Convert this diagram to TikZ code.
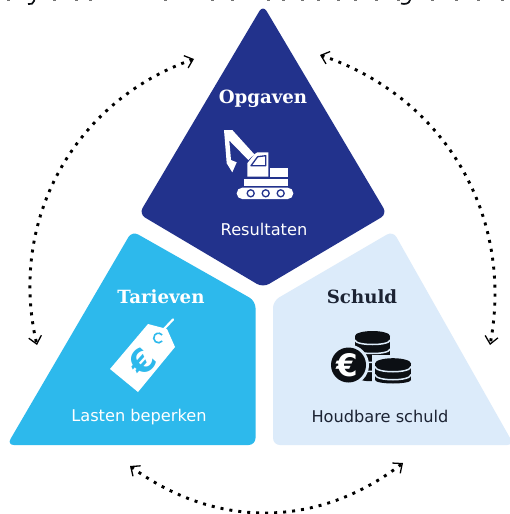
\documentclass[tikz,border=0pt]{standalone}
\usepackage{fontspec}
\setmainfont{DejaVu Sans}
\newfontfamily\titlefont{DejaVu Serif}[BoldFont={DejaVu Serif Bold}]
\usetikzlibrary{arrows.meta}
\definecolor{navy}{HTML}{22328C}
\definecolor{sky}{HTML}{2DB9EC}
\definecolor{pale}{HTML}{DCEBFA}
\definecolor{ink}{HTML}{0C0F14}
\definecolor{darktext}{HTML}{1C2333}
\tikzset{
  x=1pt,y=-1pt,
  panel/.style={rounded corners=7pt},
  titletext/.style={font=\titlefont\bfseries\fontsize{18.2}{20}\selectfont,inner sep=0pt,anchor=center},
  subtext/.style={font=\fontsize{16.2}{18}\selectfont,inner sep=0pt,anchor=center},
  gapline/.style={pale,line width=1.5pt},
  cycle arrow/.style={line width=2.9pt,black,dash pattern=on 3pt off 6pt,
    {Straight Barb[length=7.5pt,width=13pt,line width=1.3pt]}-{Straight Barb[length=7.5pt,width=13pt,line width=1.3pt]}},
}
\begin{document}
\begin{tikzpicture}
\useasboundingbox (0,0) rectangle (509,514);
\fill[white] (0,0) rectangle (509,514);
% clipped line of text along the top edge
\begin{scope}
\clip (0,0) rectangle (509,514);
\draw[ink,line width=1.7pt] (35,-3) -- (34,1) .. controls (33.5,4) and (31,4.5) .. (28,4);
\draw[ink,line width=1.7pt] (411,-3) -- (410,0) .. controls (409,4) and (405,4.5) .. (401,3.5);
\foreach \gx in {8,54,76,90,165,212,232,268,283,302,318,338,355,376,398,432,456,478,502}
  \fill[black!55] (\gx-1.5,0) rectangle (\gx+1.5,1.2);
\end{scope}
% panels
\fill[navy,panel] (263,5) -- (387,214) -- (263,287.5) -- (139,214) -- cycle;
\fill[sky,panel] (132,231) -- (255.5,301) -- (255.5,445) -- (7,445) -- cycle;
\fill[pale,panel] (393,231) -- (273,301) -- (273,445) -- (514,445) -- cycle;
% labels
\node[titletext,text=white] (opgaven) at (263,99) {Opgaven};
\node[subtext,text=white] (resultaten) at (264,229) {Resultaten};
\node[titletext,text=white] (tarieven) at (161,297) {Tarieven};
\node[subtext,text=white] (lasten) at (139,417) {Lasten beperken};
\node[titletext,text=darktext] (schuld) at (362,297) {Schuld};
\node[subtext,text=darktext] (houdbaar) at (380,416) {Houdbare schuld};
% excavator
\fill[white] (224,130) -- (232.3,130) -- (254.3,154.3) -- (248.3,160) -- (229.3,140.5) -- (231,160) -- (236.7,162.3) -- (232.3,172.3) -- (226.7,163.3) -- cycle;
\fill[white] (254.3,154.3) -- (257,152.5) -- (268.3,152.3) -- (268.3,176.7) -- (247.3,176.7) -- (247.3,163.3) -- cycle;
\draw[navy,line width=1.3pt,line join=round,fill=white] (251,165.7) -- (257.7,156.7) -- (265.7,155.7) -- (265.7,165.7) -- cycle;
\fill[white] (270,167.7) rectangle (287.7,176.7);
\fill[white] (244.3,179.3) rectangle (287.7,185.7);
\fill[white,rounded corners=5.5pt] (236.7,187.7) rectangle (293.3,199);
\foreach \wx in {250.7,265.7,280.7}
  \draw[navy,line width=1.3pt,fill=white] (\wx,193.3) circle (3.5);
% price tag
\draw[white,line width=2.2pt,line cap=round] (164,329) -- (173,319.5);
\fill[white] (148,324) -- (167,329) -- (175,347) -- (138,392) -- (110,369) -- cycle;
\draw[sky,line width=1.6pt] (158.5,338) ++(40:4.8) arc (40:320:4.8);
\node[text=sky,font=\bfseries\fontsize{33}{33}\selectfont,rotate=48,inner sep=0pt] (euroA) at (142,362) {€};
% coins: tall stack
\fill[ink] (355,336) rectangle (390,378);
\fill[ink] (372.5,336) ellipse (17.5 and 5);
\foreach \ly in {340,349,358,367}
  \draw[gapline] (355,\ly) .. controls (355,\ly+6) and (390,\ly+6) .. (390,\ly);
\fill[pale] (355,378) rectangle (391,384);
\fill[ink] (355,378) .. controls (360,381) and (370,381.5) .. (372,381) -- (372,376) -- (355,376) -- cycle;
% coin with euro
\fill[pale] (348.5,365) circle (20.5);
\fill[ink] (348.5,365) circle (17.5);
\node[text=white,font=\bfseries\fontsize{31}{31}\selectfont,inner sep=0pt] (euroB) at (347.5,365) {€};
% short stack
\fill[pale] (372,355) rectangle (414,386);
\fill[ink] (375,363.5) rectangle (411,380);
\fill[ink] (393,363.5) ellipse (18 and 5.3);
\fill[ink] (393,380) ellipse (18 and 3.5);
\draw[gapline] (375,366.5) .. controls (375,373.5) and (411,373.5) .. (411,366.5);
\draw[gapline] (375,374.5) .. controls (375,381.5) and (411,381.5) .. (411,374.5);
% connectors
\coordinate (la) at (194,59);
\coordinate (lb) at (37,345);
\coordinate (ra) at (320,55);
\coordinate (rb) at (490,345);
\coordinate (ba) at (130,466);
\coordinate (bb) at (403,463);
\draw[cycle arrow] (la) to[bend right=42] (lb);
\draw[cycle arrow] (ra) to[bend left=41] (rb);
\draw[cycle arrow] (ba) to[bend right=37] (bb);
\end{tikzpicture}
\end{document}
